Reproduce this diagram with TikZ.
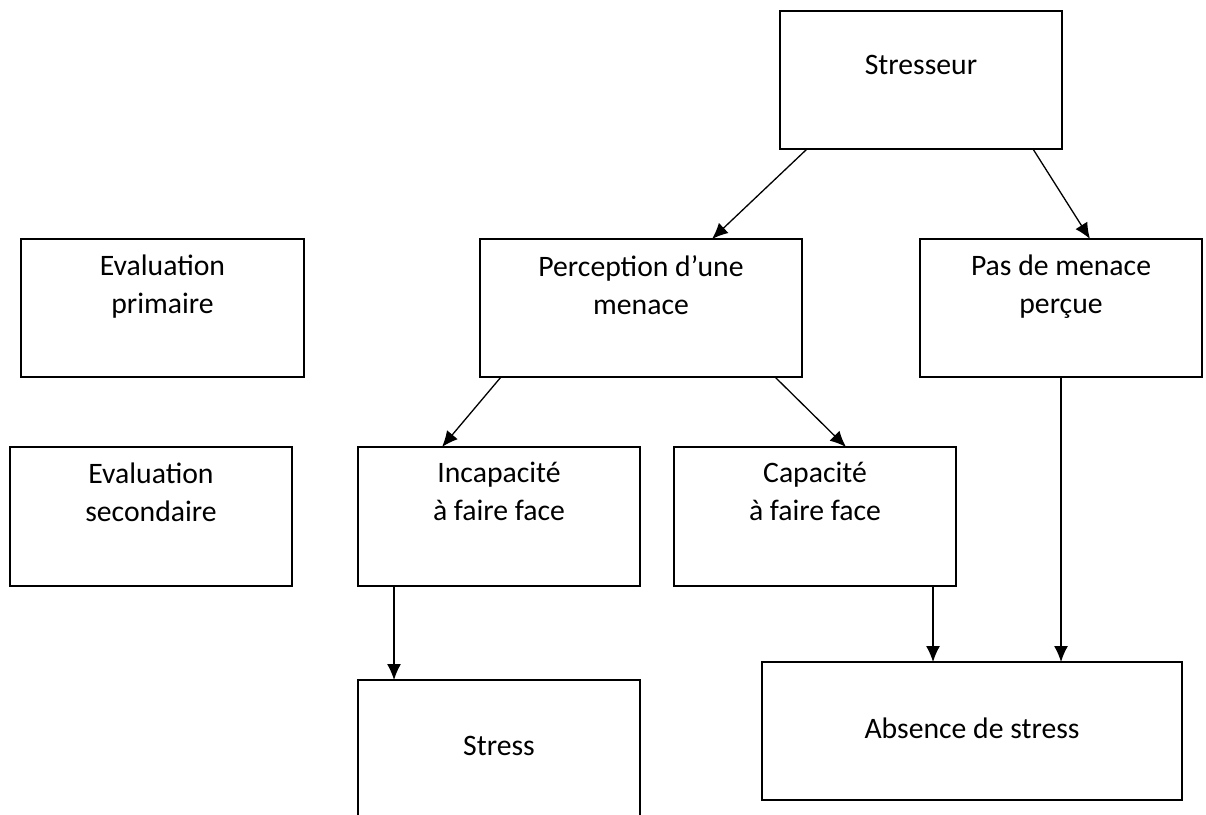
\documentclass[tikz,border=0pt]{standalone}
\usepackage{fontspec}
\setmainfont{Carlito}
\usetikzlibrary{arrows.meta, positioning}

\begin{document}
\begin{tikzpicture}[
        x=1pt, y=-1pt,
        >={Latex[length=16pt,width=14pt]},
        % Style des boîtes
        boite/.style={
            rectangle,
            draw=black,
            line width=1.4pt,
            minimum width=282pt,
            minimum height=138pt,
            inner sep=0pt,
            outer sep=0pt,
            anchor=north west
        },
        % Style des textes dans les boîtes
        texte/.style={
            font=\fontsize{29.7}{38}\selectfont,
            align=center,
            inner sep=0pt
        },
        % Style des flèches
        fleche/.style={
            ->,
            line width=1.3pt
        }
    ]
    \clip (0,0) rectangle (1206,814);
    \fill [white] (0,0) rectangle (1206,814);

    % --- ÉVALUATIONS (COLONNE DE GAUCHE) ---
    \node [boite, minimum width=283pt] (primaire) at (21,239) {};
    \node [texte, below=16pt of primaire.north] (tprimaire) {Evaluation\\primaire};

    \node [boite, minimum height=139pt] (secondaire) at (10,447) {};
    \node [texte, below=16pt of secondaire.north] (tsecondaire) {Evaluation\\secondaire};

    % --- STRESSEUR ---
    \node [boite] (stresseur) at (780,11) {};
    \node [texte, below=44pt of stresseur.north] (tstresseur) {Stresseur};

    % --- ÉVALUATION PRIMAIRE ---
    \node [boite, minimum width=322pt] (perception) at (480,239) {};
    \node [texte, below=16pt of perception.north] (tperception) {Perception d’une\\menace};

    \node [boite] (pasmenace) at (920,239) {};
    \node [texte, below=16pt of pasmenace.north] (tpasmenace) {Pas de menace\\perçue};

    % --- ÉVALUATION SECONDAIRE ---
    \node [boite, minimum height=139pt] (incapacite) at (358,447) {};
    \node [texte, below=15pt of incapacite.north] (tincapacite) {Incapacité\\à faire face};

    \node [boite, minimum height=139pt] (capacite) at (674,447) {};
    \node [texte, below=15pt of capacite.north] (tcapacite) {Capacité\\à faire face};

    % --- ISSUES ---
    \node [boite] (stress) at (358,680) {};
    \node [texte, below=56pt of stress.north] (tstress) {Stress};

    \node [boite, minimum width=420pt] (absence) at (762,662) {};
    \node [texte, below=56pt of absence.north] (tabsence) {Absence de stress};

    % --- FLÈCHES ---
    \draw [fleche] ([xshift=27pt]stresseur.south west) -- ([xshift=71pt]perception.north);
    \draw [fleche] ([xshift=-29pt]stresseur.south east) -- ([xshift=29pt]pasmenace.north);
    \draw [fleche] ([xshift=21pt]perception.south west) -- ([xshift=-57pt]incapacite.north);
    \draw [fleche] ([xshift=-27pt]perception.south east) -- ([xshift=31pt]capacite.north);
    \draw [fleche] ([xshift=36pt]incapacite.south west) -- ([xshift=36pt]stress.north west);
    \draw [fleche] ([xshift=-23pt]capacite.south east) -- ([xshift=171pt]absence.north west);
    \draw [fleche] (pasmenace.south) -- ([xshift=299pt]absence.north west);

\end{tikzpicture}
\end{document}
